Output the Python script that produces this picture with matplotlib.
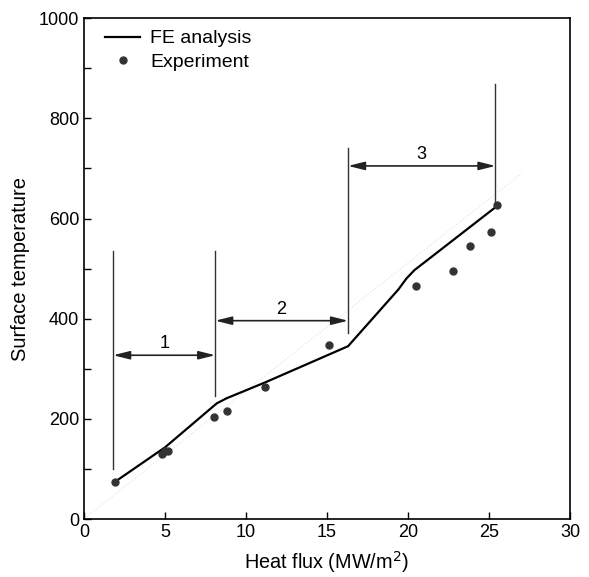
import numpy as np
import matplotlib
matplotlib.use('Agg')
import matplotlib.pyplot as plt
from matplotlib.ticker import MultipleLocator

plt.rcParams['font.family'] = ['Liberation Sans', 'DejaVu Sans']

# FE analysis curve
fe_flux = [1.9, 5.0, 8.2, 8.8, 11.2, 16.3, 19.4, 19.9, 20.4, 21.0, 25.5]
fe_temp = [74, 143, 231, 241, 273, 345, 458, 480, 497, 512, 625]

# experimental points
exp_flux = [1.9, 4.8, 5.0, 5.2, 8.0, 8.8, 11.2, 15.1, 20.5, 22.8, 23.8, 25.1, 25.5]
exp_temp = [74, 130, 136, 135, 203, 216, 263, 347, 466, 496, 546, 574, 627]

# faint scan guide line
guide_flux = [-1.0, 27.0]
guide_temp = [-25, 690]

# region boundaries: x, y bottom, y top
bounds_x = [1.8, 8.1, 16.3, 25.4]
bounds_lo = [100, 245, 372, 625]
bounds_hi = [536, 536, 741, 868]

# region arrows
reg_start = [1.8, 8.1, 16.3]
reg_end = [8.1, 16.3, 25.4]
reg_y = [327, 396, 705]
reg_label = ['1', '2', '3']

fig = plt.figure(figsize=(5.89, 5.77), dpi=100)
ax = fig.add_axes([0.1426, 0.1005, 0.8251, 0.868])

ax.plot(guide_flux, guide_temp, ls=':', color='#e2e2e2', lw=0.8, zorder=1)
ax.plot(fe_flux, fe_temp, color='black', lw=1.6, label='FE analysis', zorder=3)
ax.plot(exp_flux, exp_temp, 'o', color='#333333', ms=5, ls='none', label='Experiment', zorder=4)

for x, lo, hi in zip(bounds_x, bounds_lo, bounds_hi):
    ax.plot([x, x], [lo, hi], color='#333333', lw=1.0, zorder=2)

for s, e, y, lab in zip(reg_start, reg_end, reg_y, reg_label):
    ax.annotate('', xy=(e, y), xytext=(s, y),
                arrowprops=dict(arrowstyle='<|-|>,head_length=1.0,head_width=0.25',
                                color='#222222', lw=1.2, shrinkA=0, shrinkB=0))
    ax.text((s + e) / 2, y + 6, lab, ha='center', va='bottom', fontsize=13)

ax.set_xlim(0, 30)
ax.set_ylim(0, 1000)
ax.xaxis.set_major_locator(MultipleLocator(5))
ax.yaxis.set_major_locator(MultipleLocator(200))
ax.yaxis.set_minor_locator(MultipleLocator(100))
ax.tick_params(which='both', direction='in', length=5, width=1, labelsize=13)
for sp in ax.spines.values():
    sp.set_linewidth(1.2)

ax.set_xlabel('Heat flux (MW/m$^2$)', fontsize=14.3, labelpad=6)
ax.set_ylabel('Surface temperature', fontsize=14.5, labelpad=6)

ax.legend(loc='upper left', frameon=False, fontsize=14, handlelength=1.8,
          handletextpad=0.5, borderaxespad=0.2, labelspacing=0.3,
          bbox_to_anchor=(0.02, 1.0))

fig.savefig('out.png', dpi=100)
